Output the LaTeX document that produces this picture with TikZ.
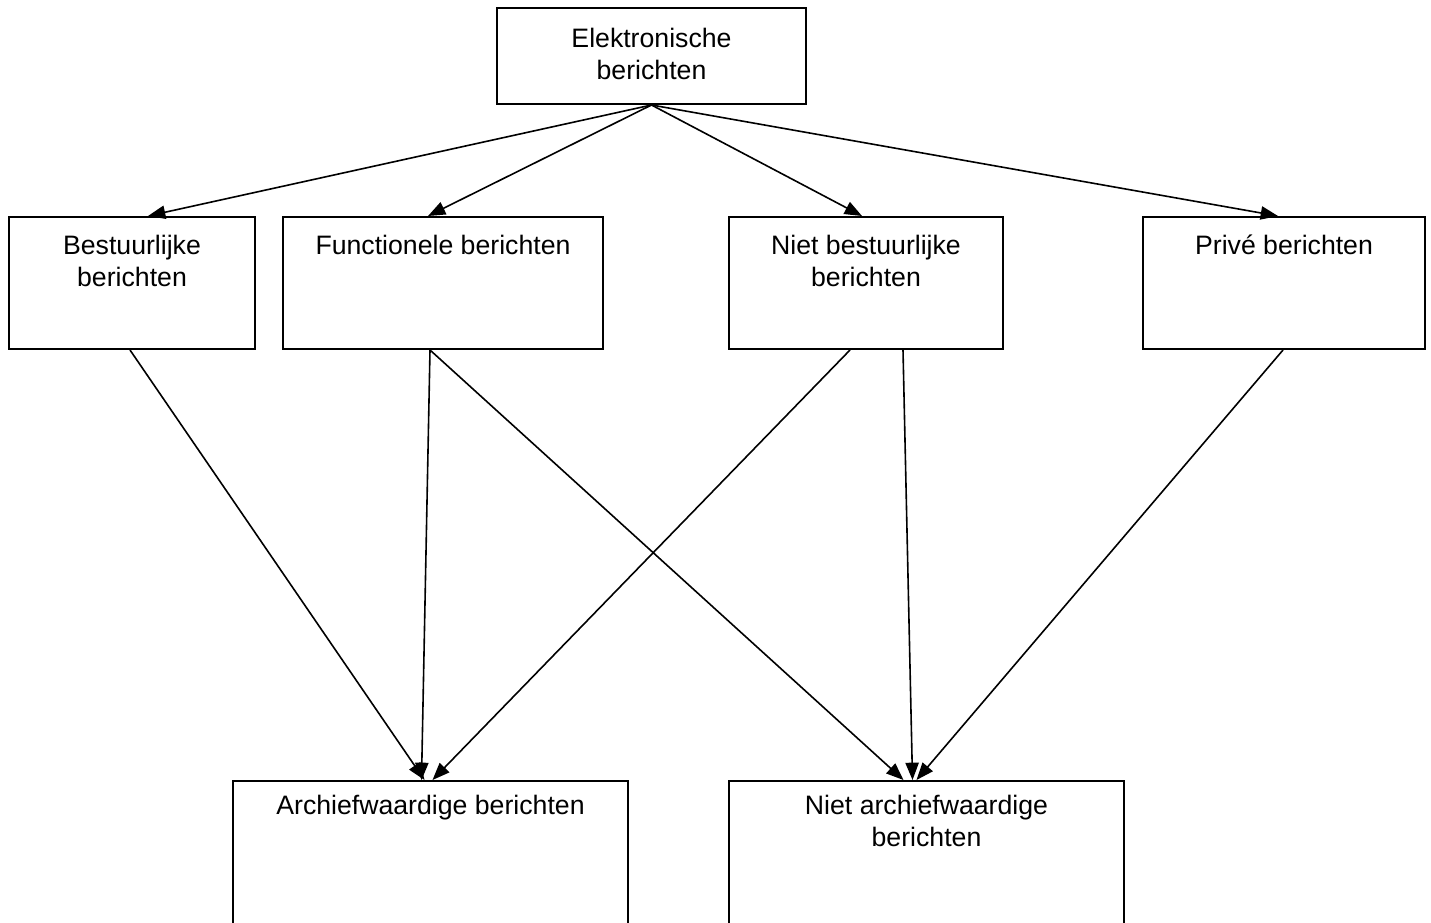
\documentclass[tikz,border=0pt]{standalone}
\usepackage{fontspec}
\setmainfont{Liberation Sans}
\usepackage{tikz}
\usetikzlibrary{arrows.meta, positioning, calc}

\newlength\pxu
\setlength\pxu{0.75pt}

\begin{document}
\begin{tikzpicture}[
    x=0.75pt, y=-0.75pt,
    font=\fontsize{20}{24}\selectfont,
    baseBox/.style={
        rectangle,
        draw=black,
        line width=1.5pt,
        inner sep=0pt,
        minimum height=132\pxu
    },
    txt/.style={anchor=north, yshift=-19\pxu, inner sep=0pt, align=center},
    topBox/.style={baseBox, minimum width=309\pxu, minimum height=96\pxu},
    soort/.style={baseBox},
    waarde/.style={baseBox, minimum width=395\pxu, minimum height=170\pxu},
    pijl/.style={-{Triangle[length=13pt, width=10pt]}, line width=1.2pt, draw=black}
]
    \useasboundingbox (0,0) rectangle (1431,923);
    \clip (0,0) rectangle (1431,923);

    % --- 1. Top ---
    \node[topBox, label={[txt, yshift=-2\pxu]north:Elektronische\\berichten}] (elek) at (651.5,56) {};

    % --- 2. Soorten berichten ---
    \node[soort, minimum width=246\pxu, label={[txt]north:Bestuurlijke\\berichten}] (best) at (132,283) {};
    \node[soort, minimum width=320\pxu, right=26\pxu of best, label={[txt]north:Functionele berichten}] (func) {};
    \node[soort, minimum width=274\pxu, right=124\pxu of func, label={[txt]north:Niet bestuurlijke\\berichten}] (nbest) {};
    \node[soort, minimum width=282\pxu, right=138\pxu of nbest, label={[txt]north:Privé berichten}] (prive) {};

    % --- 3. Waardering ---
    \node[waarde, anchor=north, label={[txt, yshift=4\pxu]north:Archiefwaardige berichten}] (arch) at (430.5,780) {};
    \node[waarde, right=99\pxu of arch, label={[txt, yshift=4\pxu]north:Niet archiefwaardige\\berichten}] (narch) {};

    % --- Connections ---
    \draw[pijl] (elek.south) -- ($(best.north)+(16,0)$);
    \draw[pijl] (elek.south) -- ($(func.north)+(-15,0)$);
    \draw[pijl] (elek.south) -- ($(nbest.north)+(-4,0)$);
    \draw[pijl] (elek.south) -- ($(prive.north)+(-6,0)$);

    \draw[pijl] ($(best.south)+(-2,0)$) -- ($(arch.north)+(-6,0)$);
    \draw[pijl] ($(func.south)+(-13,0)$) -- ($(arch.north)+(-9,0)$);
    \draw[pijl] ($(func.south)+(-13,0)$) -- ($(narch.north)+(-23,0)$);
    \draw[pijl] ($(nbest.south)+(-16,0)$) -- ($(arch.north)+(2,0)$);
    \draw[pijl] ($(nbest.south)+(37,0)$) -- ($(narch.north)+(-14,0)$);
    \draw[pijl] ($(prive.south)+(-1,0)$) -- ($(narch.north)+(-10,0)$);
\end{tikzpicture}
\end{document}
